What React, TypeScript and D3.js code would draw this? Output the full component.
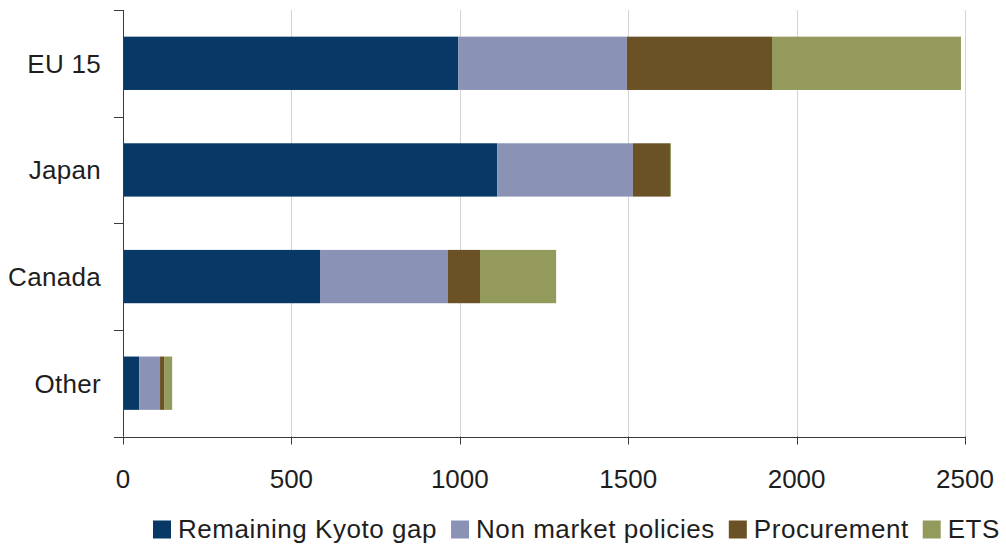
import React from "react";
import * as d3 from "d3";

const categories = ["EU 15", "Japan", "Canada", "Other"];
const seriesNames = ["Remaining Kyoto gap", "Non market policies", "Procurement", "ETS"];
const remainingKyotoGap = [995, 1111, 585, 48];
const nonMarketPolicies = [501, 403, 380, 62];
const procurement = [431, 110, 95, 12];
const ets = [561, 3, 226, 24];
const xTicks = [0, 500, 1000, 1500, 2000, 2500];
const colors = ["#083866", "#8a93b6", "#6a5126", "#94995c"];

const W = 1006;
const H = 545;
const FONT = "'Liberation Sans', Arial, sans-serif";
const FS = 26;
const LEGEND_LS = 0.55;

function measure(text: string): number {
  if (typeof document === "undefined") return text.length * FS * 0.55;
  const c = document.createElement("canvas");
  const ctx = c.getContext("2d");
  if (!ctx) return text.length * FS * 0.55;
  ctx.font = `${FS}px ${FONT}`;
  return ctx.measureText(text).width + text.length * LEGEND_LS;
}

export default function App() {
  const left = 123;
  const right = 965;
  const top = 10;
  const bottom = 436.5;

  const x = d3.scaleLinear().domain([0, 2500]).range([left, right]);
  const y = d3
    .scaleBand<string>()
    .domain(categories)
    .range([top, bottom])
    .paddingInner(0.5)
    .paddingOuter(0.25);

  const rows = categories.map((c, i) => {
    const o: any = { cat: c };
    o[seriesNames[0]] = remainingKyotoGap[i];
    o[seriesNames[1]] = nonMarketPolicies[i];
    o[seriesNames[2]] = procurement[i];
    o[seriesNames[3]] = ets[i];
    return o;
  });
  const stacked = d3.stack<any>().keys(seriesNames)(rows);

  const step = y.step();
  const boundaries = categories.map((c, i) => top + i * step).concat([bottom]);

  // legend layout
  const legendY = 529;
  let lx = 153;
  const legendItems = seriesNames.map((n, i) => {
    const item = { name: n, x: lx, color: colors[i] };
    lx += 18 + 7 + measure(n) + 14;
    return item;
  });

  const axisColor = "#3a3a3a";
  const textColor = "#1e1e1e";

  return (
    <svg width={W} height={H} style={{ display: "block", position: "absolute", left: 0, top: 0 }} fontFamily={FONT}>
      <rect x={0} y={0} width={W} height={H} fill="#ffffff" />
      {/* gridlines */}
      {xTicks.slice(1).map((t) => (
        <line key={"g" + t} x1={Math.round(x(t)) + 0.5} x2={Math.round(x(t)) + 0.5} y1={top} y2={bottom} stroke="#d4d4d4" strokeWidth={1} />
      ))}
      {/* bars */}
      {stacked.map((s, si) => (
        <g key={s.key} fill={colors[si]}>
          {s.map((d, di) => (
            <rect
              key={di}
              x={x(d[0])}
              width={Math.max(0, x(d[1]) - x(d[0]))}
              y={y(categories[di])!}
              height={y.bandwidth()}
            />
          ))}
        </g>
      ))}
      {/* y axis */}
      <line x1={left + 0.5} x2={left + 0.5} y1={top} y2={bottom} stroke={axisColor} strokeWidth={1} />
      {boundaries.map((b, i) => (
        <line key={"yt" + i} x1={left - 9} x2={left + 0.5} y1={Math.round(b) + 0.5} y2={Math.round(b) + 0.5} stroke={axisColor} strokeWidth={1} />
      ))}
      {categories.map((c) => (
        <text key={c} x={101} y={y(c)! + y.bandwidth() / 2} dy="0.36em" textAnchor="end" fontSize={FS} fill={textColor} letterSpacing={0.3}>
          {c}
        </text>
      ))}
      {/* x axis */}
      <line x1={left - 9} x2={right + 0.5} y1={Math.round(bottom) + 0.5} y2={Math.round(bottom) + 0.5} stroke={axisColor} strokeWidth={1} />
      {xTicks.map((t) => (
        <g key={"xt" + t}>
          <line x1={Math.round(x(t)) + 0.5} x2={Math.round(x(t)) + 0.5} y1={bottom} y2={bottom + 8} stroke={axisColor} strokeWidth={1} />
          <text x={x(t)} y={488} textAnchor="middle" fontSize={FS} fill={textColor}>
            {t}
          </text>
        </g>
      ))}
      {/* legend */}
      {legendItems.map((it) => (
        <g key={it.name}>
          <rect x={it.x} y={legendY - 8.5} width={18} height={18} fill={it.color} />
          <text x={it.x + 25} y={legendY + 9} fontSize={FS} fill={textColor} letterSpacing={LEGEND_LS}>
            {it.name}
          </text>
        </g>
      ))}
    </svg>
  );
}
